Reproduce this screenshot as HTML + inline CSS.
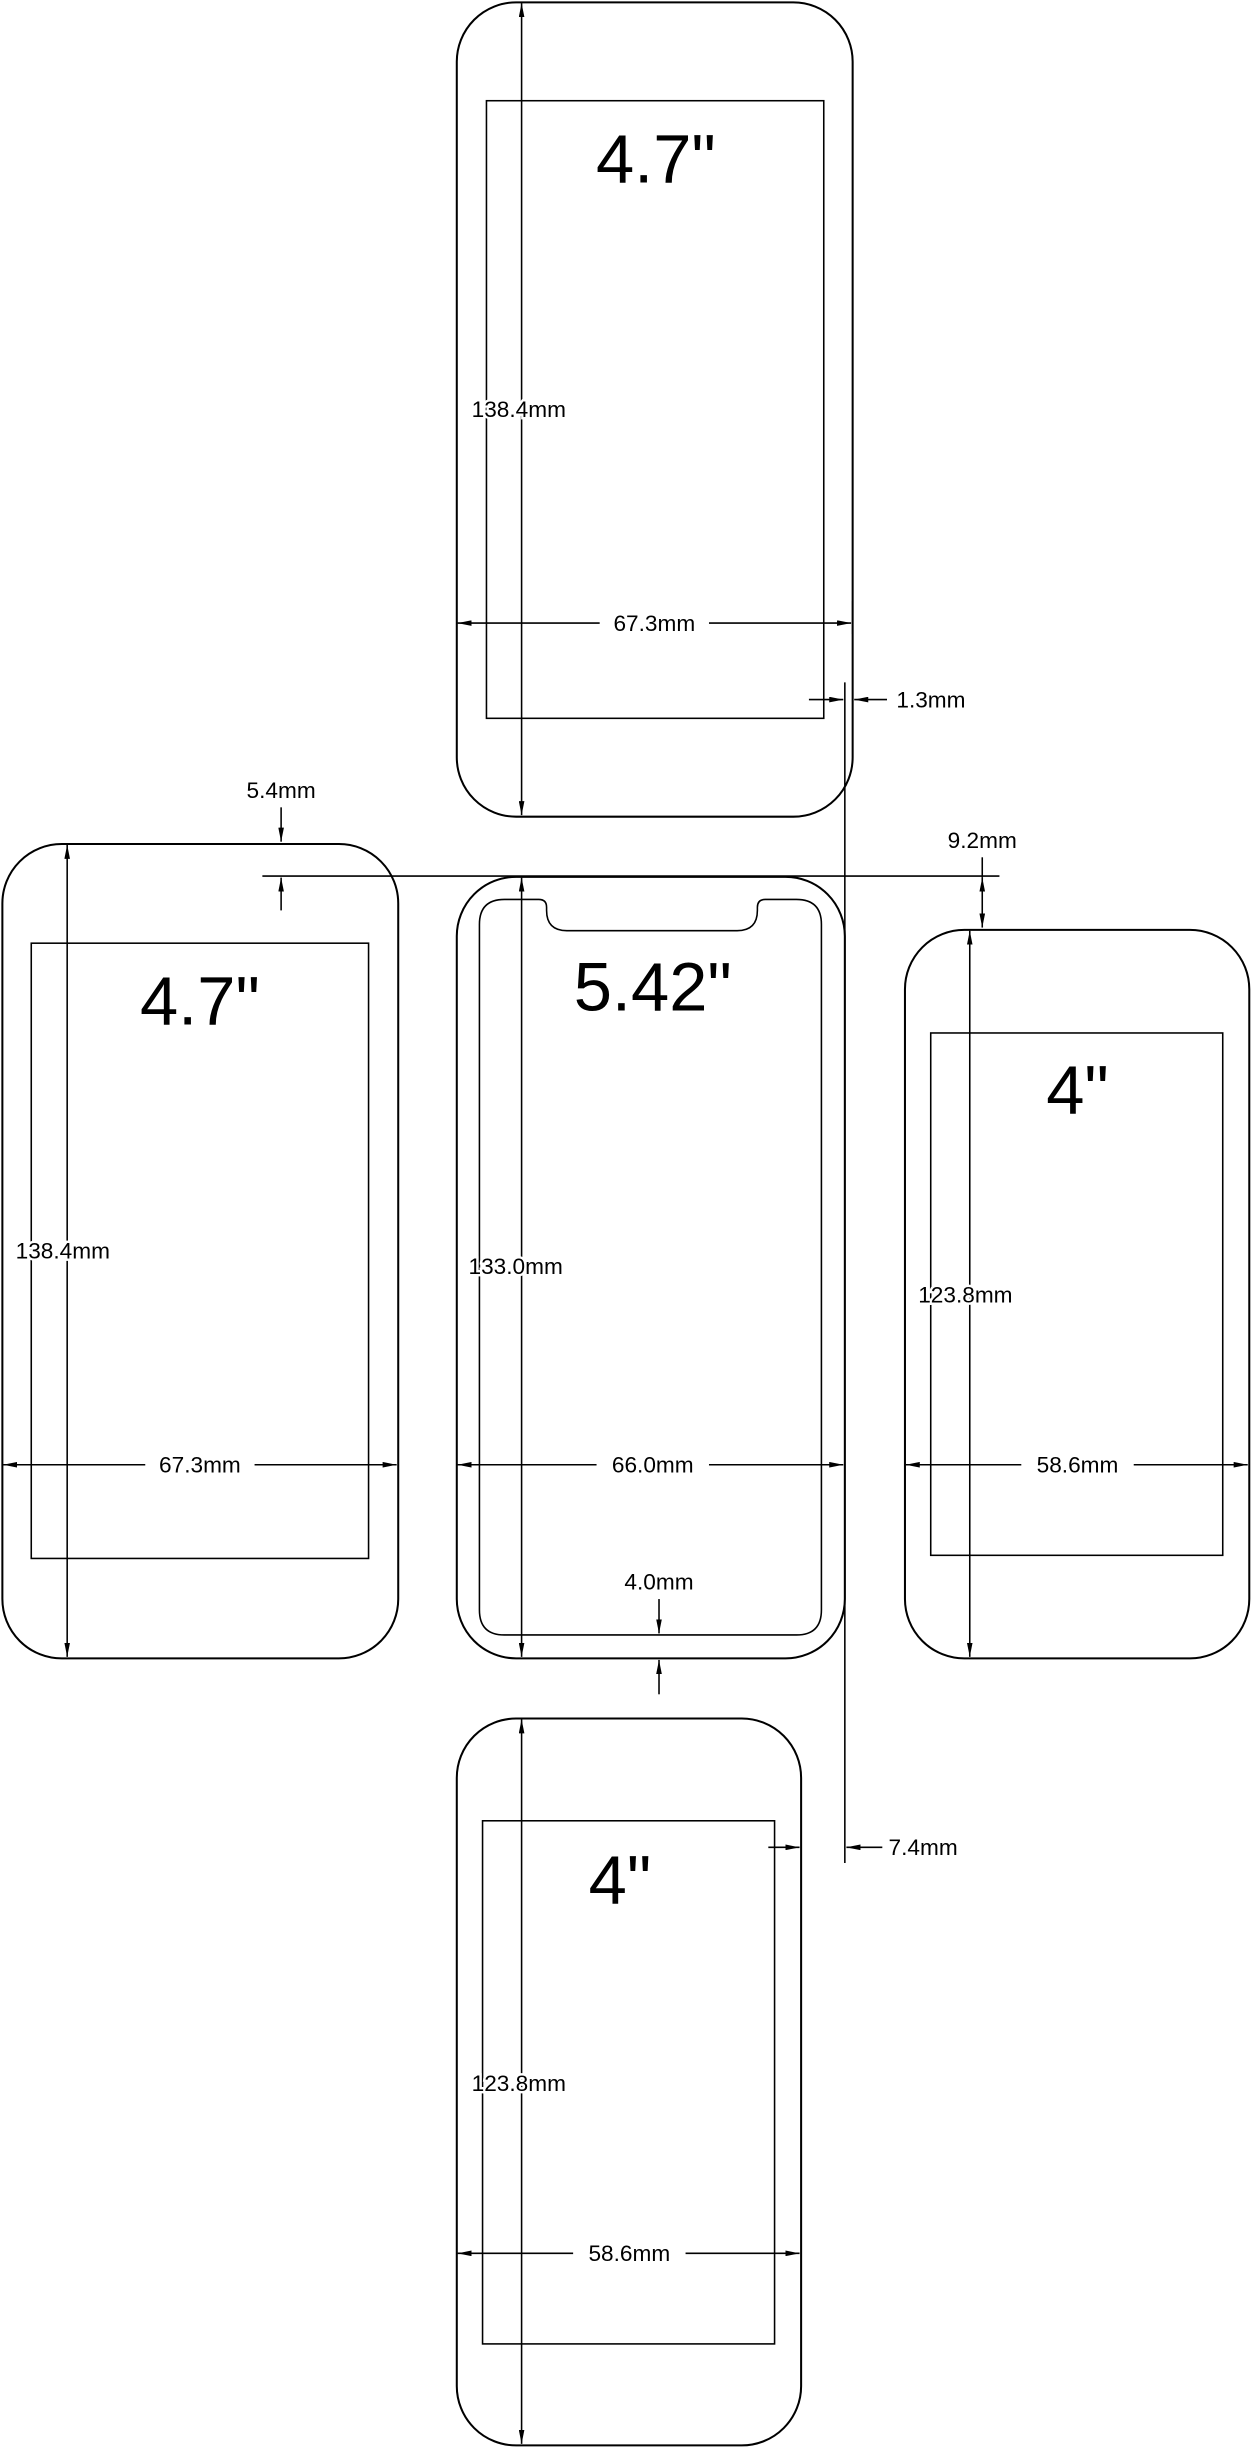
<!DOCTYPE html>
<html><head><meta charset="utf-8"><style>
html,body{margin:0;padding:0;background:#fff;}
svg{display:block;}
text{font-family:"Liberation Sans",sans-serif;fill:#000;}
.l{font-size:14.5px;}
.b{font-size:44px;}
.t{paint-order:stroke;stroke:#fff;stroke-width:3px;}
</style></head><body>
<svg width="1254" height="2454" viewBox="0 0 803 1571.5" xmlns="http://www.w3.org/2000/svg">
<defs>
<marker id="a" viewBox="0 0 10 4" refX="10" refY="2" markerWidth="9" markerHeight="3.6" markerUnits="userSpaceOnUse" orient="auto-start-reverse"><path d="M0,0 L10,2 L0,4 z" fill="#000"/></marker>
</defs>
<g fill="none" stroke="#000" stroke-width="1.3">
<rect x="292.5" y="1.5" width="253.5" height="521.5" rx="38"/>
<rect x="311.5" y="64.5" width="216" height="395.5" stroke-width="1"/>
<line x1="334" y1="2" x2="334" y2="522" stroke-width="1" marker-start="url(#a)" marker-end="url(#a)"/>
<line x1="293" y1="399" x2="384" y2="399" stroke-width="1" marker-start="url(#a)"/>
<line x1="454" y1="399" x2="545" y2="399" stroke-width="1" marker-end="url(#a)"/>
<line x1="546" y1="385" x2="546" y2="406" stroke-width="1"/>
<line x1="518" y1="448" x2="540" y2="448" stroke-width="1" marker-end="url(#a)"/>
<line x1="568" y1="448" x2="547" y2="448" stroke-width="1" marker-end="url(#a)"/>
<line x1="541" y1="437" x2="541" y2="1193" stroke-width="1"/>
<line x1="492" y1="1183" x2="512" y2="1183" stroke-width="1" marker-end="url(#a)"/>
<line x1="565" y1="1183" x2="542" y2="1183" stroke-width="1" marker-end="url(#a)"/>

<rect x="1.5" y="540.5" width="253.5" height="521.5" rx="38"/>
<rect x="20" y="604" width="216" height="394" stroke-width="1"/>
<line x1="43" y1="541" x2="43" y2="1061" stroke-width="1" marker-start="url(#a)" marker-end="url(#a)"/>
<line x1="2" y1="938" x2="93" y2="938" stroke-width="1" marker-start="url(#a)"/>
<line x1="163" y1="938" x2="254" y2="938" stroke-width="1" marker-end="url(#a)"/>
<line x1="180" y1="517" x2="180" y2="539" stroke-width="1" marker-end="url(#a)"/>
<line x1="168" y1="561" x2="640" y2="561" stroke-width="1"/>
<line x1="180" y1="583" x2="180" y2="562" stroke-width="1" marker-end="url(#a)"/>

<rect x="292.5" y="561.5" width="248.5" height="500.5" rx="38"/>
<path d="M323,576 L345,576 Q350,576 350,581 L350,583 Q350,596 363,596 L472,596 Q485,596 485,583 L485,581 Q485,576 490,576 L510,576 Q526,576 526,592 L526,1031 Q526,1047 510,1047 L323,1047 Q307,1047 307,1031 L307,592 Q307,576 323,576 Z" stroke-width="1"/>
<line x1="334" y1="562" x2="334" y2="1061" stroke-width="1" marker-start="url(#a)" marker-end="url(#a)"/>
<line x1="293" y1="938" x2="382" y2="938" stroke-width="1" marker-start="url(#a)"/>
<line x1="454" y1="938" x2="540" y2="938" stroke-width="1" marker-end="url(#a)"/>
<line x1="422" y1="1024" x2="422" y2="1046" stroke-width="1" marker-end="url(#a)"/>
<line x1="422" y1="1085" x2="422" y2="1063" stroke-width="1" marker-end="url(#a)"/>

<rect x="579.5" y="595.5" width="220.5" height="466.5" rx="38"/>
<rect x="596" y="661.5" width="187" height="334.5" stroke-width="1"/>
<line x1="621" y1="596" x2="621" y2="1061" stroke-width="1" marker-start="url(#a)" marker-end="url(#a)"/>
<line x1="580" y1="938" x2="654" y2="938" stroke-width="1" marker-start="url(#a)"/>
<line x1="726" y1="938" x2="799" y2="938" stroke-width="1" marker-end="url(#a)"/>
<line x1="629" y1="549" x2="629" y2="562" stroke-width="1"/>
<line x1="629" y1="562" x2="629" y2="594" stroke-width="1" marker-start="url(#a)" marker-end="url(#a)"/>

<rect x="292.5" y="1100.5" width="220.5" height="465.5" rx="38"/>
<rect x="309" y="1166" width="187" height="335" stroke-width="1"/>
<line x1="334" y1="1101" x2="334" y2="1565" stroke-width="1" marker-start="url(#a)" marker-end="url(#a)"/>
<line x1="293" y1="1443" x2="367" y2="1443" stroke-width="1" marker-start="url(#a)"/>
<line x1="439" y1="1443" x2="512" y2="1443" stroke-width="1" marker-end="url(#a)"/>
</g>

<text class="b" x="420" y="117" text-anchor="middle">4.7"</text>
<text class="b" x="128" y="656" text-anchor="middle">4.7"</text>
<text class="b" x="418" y="647" text-anchor="middle">5.42"</text>
<text class="b" x="690" y="713" text-anchor="middle">4"</text>
<text class="b" x="397" y="1219" text-anchor="middle">4"</text>

<text class="l t" x="302" y="267">138.4mm</text>
<text class="l" x="419" y="404" text-anchor="middle">67.3mm</text>
<text class="l" x="574" y="453">1.3mm</text>
<text class="l" x="180" y="511" text-anchor="middle">5.4mm</text>
<text class="l" x="629" y="543" text-anchor="middle">9.2mm</text>
<text class="l t" x="10" y="806">138.4mm</text>
<text class="l t" x="300" y="816">133.0mm</text>
<text class="l t" x="588" y="834">123.8mm</text>
<text class="l" x="128" y="943" text-anchor="middle">67.3mm</text>
<text class="l" x="418" y="943" text-anchor="middle">66.0mm</text>
<text class="l" x="690" y="943" text-anchor="middle">58.6mm</text>
<text class="l" x="422" y="1018" text-anchor="middle">4.0mm</text>
<text class="l" x="569" y="1188">7.4mm</text>
<text class="l t" x="302" y="1339">123.8mm</text>
<text class="l" x="403" y="1448" text-anchor="middle">58.6mm</text>
</svg>
</body></html>
